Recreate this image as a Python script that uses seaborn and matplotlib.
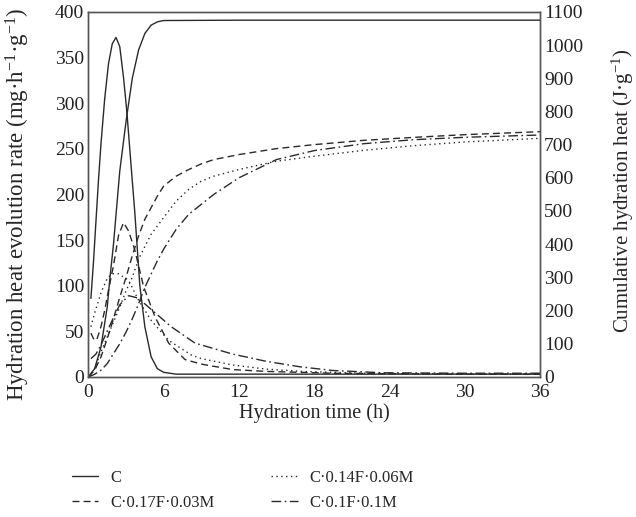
import numpy as np
import pandas as pd
import matplotlib
matplotlib.use("Agg")
import matplotlib.pyplot as plt
import seaborn as sns

# Rate curves (left axis, mg·h-1·g-1)
t_c_rate = [0.2, 0.4, 0.6, 0.8, 1.0, 1.3, 1.6, 1.9, 2.2, 2.5, 2.8, 3.05, 3.4, 3.7, 4.1, 4.5, 5.0, 5.5, 6.0, 7.0, 12, 24, 36]
c_rate = [86, 125, 170, 215, 255, 305, 343, 365, 372, 362, 328, 293, 232, 180, 100, 55, 22, 9, 5, 3, 3, 3, 3]

t_f17_rate = [0.2, 0.4, 0.65, 1.0, 1.3, 1.6, 2.0, 2.4, 2.8, 3.2, 3.7, 4.4, 5.3, 6.4, 7.7, 9.0, 11.5, 14.2, 19.5, 28, 36]
f17_rate = [48, 42, 40, 55, 73, 95, 122, 155, 169, 160, 139, 99, 66, 37, 19, 14, 8, 6, 4, 3, 3]

t_f14_rate = [0.2, 0.5, 1.0, 1.5, 1.9, 2.4, 3.2, 4.0, 5.0, 6.4, 8.2, 9.0, 11.5, 14.2, 17, 22, 28, 36]
f14_rate = [55, 70, 92, 108, 113, 113, 106, 84, 62, 40, 24, 20, 13, 8.5, 6, 4, 3.5, 3]

t_f10_rate = [0.2, 0.6, 1.0, 1.5, 2.0, 2.5, 3.2, 3.8, 4.5, 5.0, 6.6, 8.5, 11.5, 14.2, 16.9, 19.5, 23.5, 30, 36]
f10_rate = [20, 25, 35, 50, 65, 79, 89, 87, 80, 74, 55, 37, 25, 17, 11, 7, 4.5, 4, 4]

# Cumulative heat (right axis, J·g-1)
t_c_cum = [0, 0.5, 1.0, 1.5, 1.7, 2.0, 2.5, 3.0, 3.5, 4.0, 4.5, 5.0, 5.5, 6.0, 12, 24, 36]
c_cum = [0, 25, 90, 210, 292, 400, 620, 770, 900, 985, 1035, 1060, 1070, 1074, 1075, 1075, 1075]

t_cum = [0, 0.5, 1, 1.5, 2, 2.5, 3, 3.5, 4, 4.5, 5, 5.5, 6, 7, 8, 9, 10, 12, 15, 18, 22, 26, 30, 36]
f17_cum = [0, 20, 60, 115, 175, 240, 300, 365, 425, 475, 510, 545, 575, 605, 625, 642, 655, 670, 688, 700, 713, 722, 730, 739]
f14_cum = [0, 25, 75, 120, 165, 210, 260, 300, 355, 393, 430, 455, 480, 530, 565, 590, 605, 625, 650, 665, 683, 697, 708, 719]
f10_cum = [0, 8, 20, 40, 70, 100, 135, 175, 220, 270, 310, 350, 385, 445, 490, 520, 550, 600, 655, 682, 703, 715, 722, 729]

labels = ["C", "C·0.17F·0.03M", "C·0.14F·0.06M", "C·0.1F·0.1M"]
styles = ["-", (0, (5, 3)), (0, (1, 2.5)), (0, (7, 2.5, 1.2, 2.5))]

sns.set_style("white")
plt.rcParams["font.family"] = ["Liberation Serif", "DejaVu Serif"]
plt.rcParams["mathtext.default"] = "regular"

fig = plt.figure(figsize=(6.36, 5.17), dpi=100)
ax = fig.add_axes([0.139, 0.271, 0.710, 0.706])
ax2 = ax.twinx()

col = "#2a2a2a"
rates = [(t_c_rate, c_rate), (t_f17_rate, f17_rate), (t_f14_rate, f14_rate), (t_f10_rate, f10_rate)]
cums = [(t_c_cum, c_cum), (t_cum, f17_cum), (t_cum, f14_cum), (t_cum, f10_cum)]

handles = []
for (tx, ty), ls in zip(rates, styles):
    sns.lineplot(x=tx, y=ty, ax=ax, color=col, linewidth=1.0, linestyle=ls)
    handles.append(ax.lines[-1])
for (tx, ty), ls in zip(cums, styles):
    sns.lineplot(x=tx, y=ty, ax=ax2, color=col, linewidth=1.0, linestyle=ls)
for a in (ax, ax2):
    if a.get_legend() is not None:
        a.get_legend().remove()

ax.set_xlim(0, 36)
ax.set_ylim(0, 400)
ax2.set_ylim(0, 1100)
ax.set_xticks(np.arange(0, 37, 6))
ax.set_yticks(np.arange(0, 401, 50))
ax2.set_yticks(np.arange(0, 1101, 100))

for a in (ax, ax2):
    a.tick_params(length=0, labelsize=14, colors="#222222", pad=3)
    for s in a.spines.values():
        s.set_color("#555555")
        s.set_linewidth(1.0)
ax.tick_params(axis="x", pad=5)

ax.set_xlabel("Hydration time (h)", fontsize=14.5, labelpad=2)
ax.set_ylabel("Hydration heat evolution rate (mg·h$^{-1}$·g$^{-1}$)", fontsize=16.5)
ax2.set_ylabel("Cumulative hydration heat (J·g$^{-1}$)", fontsize=15)
ax.yaxis.set_label_coords(-0.124, 0.472)
ax2.yaxis.set_label_coords(1.155, 0.51)

fig.legend(handles=handles, labels=labels, ncol=2, loc="upper left",
           bbox_to_anchor=(0.089, 0.12), frameon=False, fontsize=12,
           handlelength=1.6, handletextpad=0.7, columnspacing=3.4, labelspacing=0.55)

fig.savefig("out.png", dpi=100)
